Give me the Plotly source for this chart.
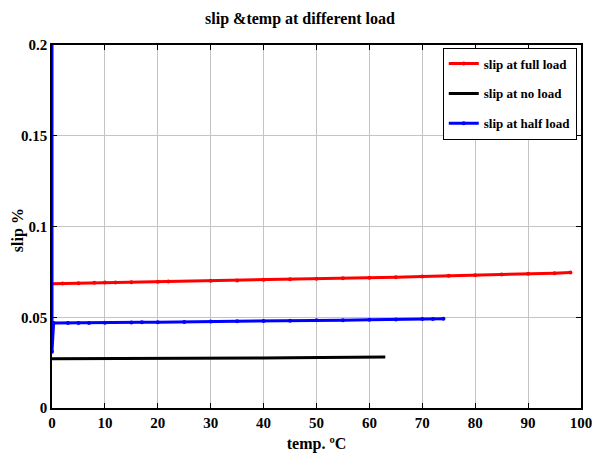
import plotly.graph_objects as go

temp_full = [0, 2, 5, 8, 10, 12, 15, 20, 22, 30, 35, 40, 45, 50, 55, 60, 65, 70, 75, 80, 85, 90, 95, 98]
slip_full = [0.0685, 0.0686, 0.0688, 0.0690, 0.0691, 0.0692, 0.0693, 0.0696, 0.0697, 0.0701, 0.0703, 0.0706, 0.0709, 0.0712, 0.0715, 0.0718, 0.0721, 0.0725, 0.0728, 0.0732, 0.0735, 0.0739, 0.0743, 0.0746]

temp_no = [0, 2, 4, 6, 8, 10, 14, 16, 18, 25, 28, 30, 40, 45, 50, 55, 60, 63]
slip_no = [0.0272, 0.0272, 0.0272, 0.0272, 0.0273, 0.0273, 0.0273, 0.0273, 0.0274, 0.0274, 0.0274, 0.0275, 0.0276, 0.0277, 0.0278, 0.0279, 0.0280, 0.0281]

temp_half = [0, 0, 0.3, 3, 5, 7, 10, 15, 17, 20, 25, 30, 35, 40, 45, 50, 55, 60, 65, 70, 72, 74]
slip_half = [0.25, 0.031, 0.0468, 0.0468, 0.0469, 0.0469, 0.0470, 0.0471, 0.0472, 0.0473, 0.0474, 0.0476, 0.0478, 0.0479, 0.0481, 0.0483, 0.0484, 0.0486, 0.0488, 0.0490, 0.0491, 0.0492]

x_ticks = [0, 10, 20, 30, 40, 50, 60, 70, 80, 90, 100]
y_ticks = [0, 0.05, 0.1, 0.15, 0.2]
y_tick_text = ["0", "0.05", "0.1", "0.15", "0.2"]

fig = go.Figure()
fig.add_trace(go.Scatter(x=temp_full, y=slip_full, mode="lines+markers", name="<b>slip at full load</b>",
                         legendgroup="a",
                         line=dict(color="#ff0000", width=3), marker=dict(size=4, color="#ff0000")))
fig.add_trace(go.Scatter(x=temp_no, y=slip_no, mode="lines", name="<b>slip at no load</b>",
                         legendgroup="b",
                         line=dict(color="#000000", width=3)))
fig.add_trace(go.Scatter(x=temp_half, y=slip_half, mode="lines+markers", name="<b>slip at half load</b>",
                         legendgroup="c",
                         line=dict(color="#0000ff", width=3), marker=dict(size=4, color="#0000ff")))

tf = dict(family="Liberation Serif", size=15, color="black")
ttf = dict(family="Liberation Serif", size=16, color="black")
axis_common = dict(showline=True, linecolor="black", linewidth=1.5, mirror="ticks",
                   ticks="inside", ticklen=5, tickcolor="black",
                   showgrid=True, gridcolor="#c4c4c4", gridwidth=1,
                   zeroline=False, tickfont=tf, automargin=False,
                   ticklabeloverflow="allow")

fig.update_layout(
    width=584, height=445,
    margin=dict(l=44, r=11, t=37, b=45),
    paper_bgcolor="white", plot_bgcolor="white",
    font=tf,
    title=dict(text="<b>slip &temp at different load</b>", x=0.5, xanchor="center", y=0.977, yanchor="middle",
               font=ttf),
    xaxis=dict(range=[0, 100], tickvals=x_ticks,
               ticktext=["<b>%d</b>" % v for v in x_ticks],
               title=dict(text="<b>temp. ºC</b>", standoff=15, font=ttf),
               **axis_common),
    yaxis=dict(range=[0, 0.2], tickvals=y_ticks,
               ticktext=["<b>%s</b>" % t for t in y_tick_text],
               **axis_common),
    legend=dict(x=0.992, y=0.993, xanchor="right", yanchor="top", bgcolor="white",
                bordercolor="black", borderwidth=1, tracegroupgap=10,
                font=dict(family="Liberation Serif", size=13, color="black"),
                itemwidth=30),
    showlegend=True,
    annotations=[dict(text="<b>slip %</b>", xref="paper", yref="paper", x=-34/529, y=0.49,
                      xanchor="center", yanchor="middle", textangle=-90, showarrow=False, font=ttf)],
)

fig.write_html("out.html")
